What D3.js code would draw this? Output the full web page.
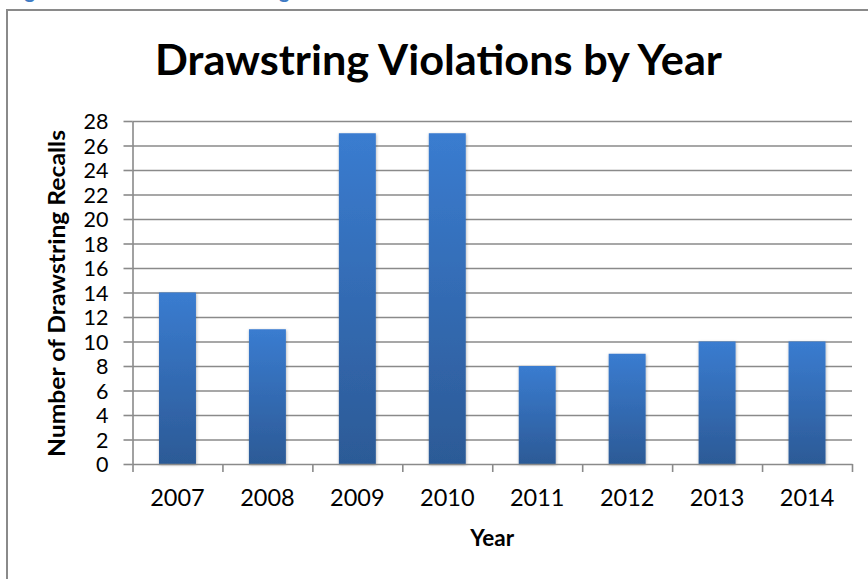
<!DOCTYPE html>
<html>
<head>
<meta charset="utf-8">
<script src="https://cdn.jsdelivr.net/npm/d3@7"></script>
<style>
  html, body { margin: 0; padding: 0; background: #fff; }
  svg { display: block; }
  text { font-family: Lato, "Open Sans", "Noto Sans", sans-serif; }
</style>
</head>
<body>
<svg id="chart" width="868" height="579"></svg>
<script>
// Recall counts per year
const years = ["2007", "2008", "2009", "2010", "2011", "2012", "2013", "2014"];
const recalls = [14, 11, 27, 27, 8, 9, 10, 10];
const yTicks = [0, 2, 4, 6, 8, 10, 12, 14, 16, 18, 20, 22, 24, 26, 28];

const titleText = "Drawstring Violations by Year";
const xTitle = "Year";
const yTitle = "Number of Drawstring Recalls";
const captionText = "Figure 8: Number of Drawstring Recalls";

const W = 868, H = 579;
const plot = { left: 132.5, right: 852, top: 121, bottom: 464 };
const gridColor = "#8a8a8a";

const svg = d3.select("#chart");

const defs = svg.append("defs");
const grad = defs.append("linearGradient")
  .attr("id", "barFill").attr("x1", 0).attr("y1", 0).attr("x2", 0).attr("y2", 1);
grad.append("stop").attr("offset", "0%").attr("stop-color", "#3a7cd0");
grad.append("stop").attr("offset", "100%").attr("stop-color", "#2c5a96");

const shadow = defs.append("filter").attr("id", "barShadow")
  .attr("x", "-20%").attr("y", "-5%").attr("width", "140%").attr("height", "110%");
shadow.append("feDropShadow")
  .attr("dx", 0.5).attr("dy", 1).attr("stdDeviation", 1.6)
  .attr("flood-color", "#000").attr("flood-opacity", 0.3);

// Caption text above the chart frame (only its lower edge is in view)
svg.append("text")
  .attr("x", 8).attr("y", -2)
  .attr("font-size", 20).attr("font-weight", "bold")
  .attr("fill", "#3f7bc4")
  .text(captionText);

// Chart frame
svg.append("rect")
  .attr("x", 7).attr("y", 10)
  .attr("width", W + 20).attr("height", H + 20)
  .attr("fill", "none").attr("stroke", "#8a8a8a").attr("stroke-width", 2);

// Scales
const x = d3.scaleBand()
  .domain(years)
  .range([plot.left, plot.right])
  .paddingInner(0.589)
  .paddingOuter(0.2945);

const y = d3.scaleLinear()
  .domain([0, 28])
  .range([plot.bottom, plot.top]);

// Horizontal gridlines
svg.append("g")
  .attr("transform", `translate(${plot.left},0)`)
  .call(d3.axisLeft(y).tickValues(yTicks.slice(1)).tickSize(-(plot.right - plot.left)).tickFormat(""))
  .call(g => g.select(".domain").remove())
  .call(g => g.selectAll("line").attr("stroke", gridColor).attr("stroke-width", 1.6));

// Bars
svg.append("g")
  .selectAll("rect")
  .data(years.map((yr, i) => ({ yr, v: recalls[i] })))
  .join("rect")
  .attr("x", d => x(d.yr))
  .attr("width", x.bandwidth())
  .attr("y", d => y(d.v))
  .attr("height", d => y(0) - y(d.v))
  .attr("fill", "url(#barFill)")
  .attr("filter", "url(#barShadow)");

// Y axis
svg.append("g")
  .attr("transform", `translate(${plot.left},0)`)
  .call(d3.axisLeft(y).tickValues(yTicks).tickSize(9).tickPadding(15).tickSizeOuter(0))
  .call(g => g.select(".domain").attr("stroke", gridColor).attr("stroke-width", 1.6))
  .call(g => g.selectAll("line").attr("stroke", gridColor).attr("stroke-width", 1.6))
  .call(g => g.selectAll("text")
    .attr("font-family", "Lato, 'Open Sans', sans-serif")
    .attr("font-size", 21.5).attr("fill", "#000")
    .attr("dy", "0.36em"));

// X axis: boundary ticks between categories
const edges = d3.scaleLinear().domain([0, years.length]).range([plot.left, plot.right]);
svg.append("g")
  .attr("transform", `translate(0,${plot.bottom})`)
  .call(d3.axisBottom(edges).tickValues(d3.range(years.length + 1)).tickSize(8).tickFormat("").tickSizeOuter(0))
  .call(g => g.select(".domain").attr("stroke", gridColor).attr("stroke-width", 1.6))
  .call(g => g.selectAll("line").attr("stroke", gridColor).attr("stroke-width", 1.6));

// X axis labels
svg.append("g")
  .attr("transform", `translate(0,${plot.bottom})`)
  .call(d3.axisBottom(x).tickSize(0).tickSizeOuter(0))
  .call(g => g.select(".domain").remove())
  .call(g => g.selectAll("text")
    .attr("font-family", "Lato, 'Open Sans', sans-serif")
    .attr("font-size", 23.5).attr("fill", "#000")
    .attr("y", 42).attr("dy", 0));

// Title
svg.append("text")
  .attr("x", 438.5).attr("y", 75)
  .attr("text-anchor", "middle")
  .attr("font-size", 42).attr("font-weight", "bold")
  .attr("textLength", 567).attr("lengthAdjust", "spacingAndGlyphs")
  .attr("fill", "#000")
  .text(titleText);

// Axis titles
svg.append("text")
  .attr("x", (plot.left + plot.right) / 2).attr("y", 546)
  .attr("text-anchor", "middle")
  .attr("font-size", 22.5).attr("font-weight", "bold")
  .attr("fill", "#000")
  .text(xTitle);

svg.append("text")
  .attr("transform", "translate(65,293.5) rotate(-90)")
  .attr("text-anchor", "middle")
  .attr("font-size", 22.5).attr("font-weight", "bold")
  .attr("textLength", 327).attr("lengthAdjust", "spacingAndGlyphs")
  .attr("fill", "#000")
  .text(yTitle);
</script>
</body>
</html>
